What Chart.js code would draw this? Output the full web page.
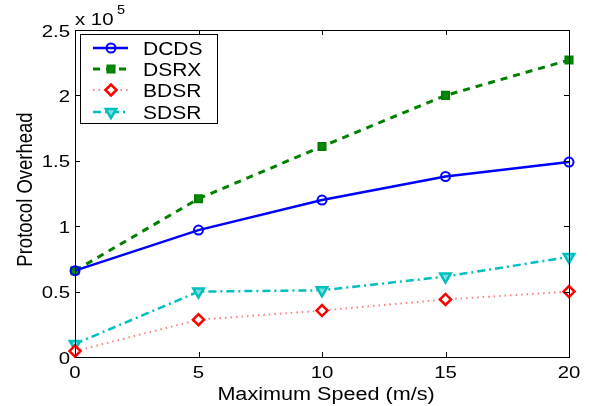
<!DOCTYPE html>
<html>
<head>
<meta charset="utf-8">
<script src="https://cdn.jsdelivr.net/npm/chart.js@4/dist/chart.umd.min.js"></script>
<style>
  html, body { margin: 0; padding: 0; background: #fff; }
  #wrap { width: 589px; height: 406px; position: relative; }
</style>
</head>
<body>
<div id="wrap"><canvas id="overheadChart"></canvas></div>
<script>
// 最大速度 (m/s)
const speeds = [0, 5, 10, 15, 20];
// 协议开销
const dcds = [66000, 97000, 120000, 138000, 149000];
const dsrx = [66000, 121000, 161000, 200000, 227000];
const bdsr = [4500, 28500, 35500, 44000, 50000];
const sdsr = [10000, 50000, 51000, 61500, 76500];
const yTicks = [0, 50000, 100000, 150000, 200000, 250000];
const xTicks = [0, 5, 10, 15, 20];
const xTitle = 'Maximum Speed (m/s)';
const yTitle = 'Protocol Overhead';

const FONT = '"Liberation Sans", Arial, Helvetica, sans-serif';
const STRETCH = 1.2; // 原图文字横向略宽

function toPoints(values) {
    return speeds.map((s, i) => ({ x: s, y: values[i] }));
}

// 横向拉伸的文字
function wideText(ctx, text, x, y, size, align) {
    ctx.save();
    ctx.font = size + 'px ' + FONT;
    ctx.translate(x, y);
    ctx.scale(STRETCH, 1);
    ctx.textAlign = align;
    ctx.textBaseline = 'alphabetic';
    ctx.fillStyle = '#000';
    ctx.fillText(text, 0, 0);
    ctx.restore();
}

// MATLAB 风格的坐标框 + 内向刻度 + 文字 + 图例
const boxPlugin = {
    id: 'matlabBox',
    afterDraw(chart) {
        const ctx = chart.ctx;
        const a = chart.chartArea;
        const xs = chart.scales.x, ys = chart.scales.y;
        ctx.save();
        ctx.strokeStyle = '#000';
        ctx.lineWidth = 1;
        ctx.strokeRect(a.left + 0.5, a.top + 0.5, a.right - a.left, a.bottom - a.top);
        ctx.beginPath();
        xTicks.forEach(v => {
            const px = Math.round(xs.getPixelForValue(v)) + 0.5;
            ctx.moveTo(px, a.bottom); ctx.lineTo(px, a.bottom - 5);
            ctx.moveTo(px, a.top); ctx.lineTo(px, a.top + 5);
        });
        yTicks.forEach(v => {
            const py = Math.round(ys.getPixelForValue(v)) + 0.5;
            ctx.moveTo(a.left, py); ctx.lineTo(a.left + 5, py);
            ctx.moveTo(a.right, py); ctx.lineTo(a.right - 5, py);
        });
        ctx.stroke();

        // 刻度文字
        xTicks.forEach(v => {
            wideText(ctx, String(v), xs.getPixelForValue(v), a.bottom + 21, 17, 'center');
        });
        yTicks.forEach(v => {
            wideText(ctx, String(v / 100000), a.left - 5, ys.getPixelForValue(v) + 6.5, 17, 'right');
        });

        // 坐标轴标题
        wideText(ctx, xTitle, (a.left + a.right) / 2 + 4, a.bottom + 43, 18, 'center');
        ctx.save();
        ctx.font = '18.5px ' + FONT;
        ctx.translate(32, (a.top + a.bottom) / 2 - 4);
        ctx.scale(STRETCH, 1);
        ctx.rotate(-Math.PI / 2);
        ctx.textAlign = 'center';
        ctx.textBaseline = 'alphabetic';
        ctx.fillStyle = '#000';
        ctx.fillText(yTitle, 0, 0);
        ctx.restore();

        // x 10^5
        wideText(ctx, 'x 10', a.left, 25, 17, 'left');
        wideText(ctx, '5', a.left + 42, 14, 12, 'left');

        // 图例
        const lx = 80, ly = 34, lw = 137, lh = 89;
        ctx.fillStyle = '#fff';
        ctx.fillRect(lx, ly, lw, lh);
        ctx.strokeStyle = '#000';
        ctx.lineWidth = 1;
        ctx.strokeRect(lx + 0.5, ly + 0.5, lw, lh);
        const rows = [48, 69, 90, 112];
        chart.data.datasets.forEach((ds, i) => {
            const y = rows[i];
            ctx.save();
            ctx.strokeStyle = ds.borderColor;
            ctx.lineWidth = ds.borderWidth;
            ctx.setLineDash(ds.borderDash || []);
            ctx.beginPath();
            ctx.moveTo(93, y); ctx.lineTo(128, y);
            ctx.stroke();
            ctx.setLineDash([]);
            ctx.strokeStyle = ds.pointBorderColor;
            ctx.fillStyle = ds.pointBackgroundColor;
            ctx.lineWidth = ds.pointBorderWidth;
            Chart.helpers.drawPoint(ctx, {
                pointStyle: ds.pointStyle,
                radius: ds.pointRadius,
                rotation: ds.pointRotation || 0,
                borderWidth: ds.pointBorderWidth
            }, 111, y);
            ctx.restore();
            wideText(ctx, ds.label, 143, y + 6.5, 17.5, 'left');
        });
        ctx.restore();
    }
};

const bgPlugin = {
    id: 'whiteBg',
    beforeDraw(chart) {
        const ctx = chart.ctx;
        ctx.save();
        ctx.fillStyle = '#fff';
        ctx.fillRect(0, 0, chart.width, chart.height);
        ctx.restore();
    }
};

new Chart(document.getElementById('overheadChart'), {
    type: 'line',
    data: {
        datasets: [
            {
                label: 'DCDS',
                data: toPoints(dcds),
                borderColor: '#0000ff',
                borderWidth: 2.5,
                pointStyle: 'circle',
                pointRadius: 4.5,
                pointBorderWidth: 2,
                pointBorderColor: '#0000ff',
                pointBackgroundColor: 'rgba(255,255,255,0)'
            },
            {
                label: 'DSRX',
                data: toPoints(dsrx),
                borderColor: '#008000',
                borderWidth: 3,
                borderDash: [7, 6],
                pointStyle: 'rect',
                pointRadius: 5,
                pointBorderWidth: 2,
                pointBorderColor: '#008000',
                pointBackgroundColor: '#0a8a0a'
            },
            {
                label: 'BDSR',
                data: toPoints(bdsr),
                borderColor: 'rgba(255,60,60,0.65)',
                borderWidth: 2,
                borderDash: [1.5, 4],
                pointStyle: 'rectRot',
                pointRadius: 5.5,
                pointBorderWidth: 2.5,
                pointBorderColor: '#ff0000',
                pointBackgroundColor: '#ffffff'
            },
            {
                label: 'SDSR',
                data: toPoints(sdsr),
                borderColor: '#00bfbf',
                borderWidth: 2.5,
                borderDash: [8, 4, 2, 4],
                pointStyle: 'triangle',
                pointRotation: 180,
                pointRadius: 6,
                pointBorderWidth: 2.5,
                pointBorderColor: '#00bfbf',
                pointBackgroundColor: '#7fdfdf'
            }
        ]
    },
    options: {
        responsive: true,
        maintainAspectRatio: false,
        animation: false,
        clip: false,
        layout: { padding: { left: 0, right: 20, top: 30, bottom: 0 } },
        plugins: {
            legend: { display: false },
            tooltip: { enabled: false }
        },
        scales: {
            x: {
                type: 'linear',
                min: 0,
                max: 20,
                grid: { display: false },
                border: { display: false },
                ticks: { display: false, stepSize: 5 },
                afterFit(scale) { scale.height = 49; }
            },
            y: {
                min: 0,
                max: 250000,
                grid: { display: false },
                border: { display: false },
                ticks: { display: false, stepSize: 50000 },
                afterFit(scale) { scale.width = 75; }
            }
        }
    },
    plugins: [bgPlugin, boxPlugin]
});
</script>
</body>
</html>
